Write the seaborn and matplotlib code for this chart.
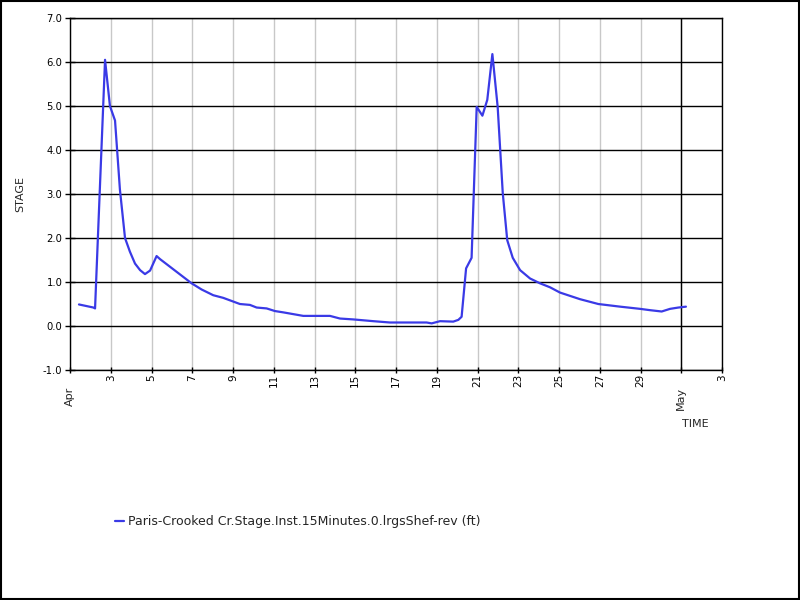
import pandas as pd
import matplotlib
matplotlib.use("Agg")
import matplotlib.pyplot as plt
import seaborn as sns

# stage readings, time given as days after Apr 1 00:00
start = pd.Timestamp("2024-04-01")
day_offsets = [0.44, 1.15, 1.23, 1.42, 1.72, 1.96, 2.21, 2.45, 2.70, 2.94,
               3.19, 3.44, 3.68, 3.93, 4.25, 4.42, 5.97, 6.46, 7.03, 7.52,
               8.34, 8.83, 9.16, 9.65, 10.06, 10.47, 11.45, 11.94, 12.76, 13.25,
               13.90, 14.89, 15.70, 17.50, 17.75, 18.16, 18.81, 19.06, 19.22, 19.44,
               19.71, 19.96, 20.24, 20.48, 20.73, 20.99, 21.24, 21.46, 21.73, 22.09,
               22.58, 23.07, 23.56, 24.05, 25.03, 25.93, 27.00, 27.98, 28.47, 29.04,
               29.45, 29.86, 30.23]
stage = [0.49, 0.42, 0.40, 2.60, 6.05, 5.00, 4.67, 3.10, 2.00, 1.69,
         1.42, 1.27, 1.18, 1.26, 1.59, 1.52, 0.97, 0.83, 0.70, 0.64,
         0.50, 0.48, 0.42, 0.40, 0.34, 0.31, 0.23, 0.23, 0.23, 0.17,
         0.15, 0.11, 0.08, 0.08, 0.06, 0.11, 0.10, 0.14, 0.21, 1.31,
         1.55, 4.98, 4.78, 5.14, 6.18, 4.98, 3.02, 1.95, 1.55, 1.27,
         1.08, 0.97, 0.88, 0.76, 0.61, 0.50, 0.44, 0.39, 0.36, 0.33,
         0.39, 0.42, 0.44]
series_name = "Paris-Crooked Cr.Stage.Inst.15Minutes.0.lrgsShef-rev (ft)"

df = pd.DataFrame({
    "TIME": start + pd.to_timedelta(day_offsets, unit="D"),
    "STAGE": stage,
})

sns.set_style("ticks")
plt.rcParams["font.family"] = ["DejaVu Sans"]

fig = plt.figure(figsize=(8, 6), dpi=100)
ax = fig.add_axes([0.0875, 0.3833, 0.815, 0.5867])

sns.lineplot(data=df, x="TIME", y="STAGE", color="#3a3ae6", linewidth=1.6,
             ax=ax, label=series_name, legend=False)

ax.set_xlim(start, start + pd.Timedelta(days=32))
ax.set_ylim(-1.0, 7.0)
ax.set_yticks(range(-1, 8))
ax.set_yticklabels([f"{v:.1f}" for v in range(-1, 8)], fontsize=7.2)

xticks = list(pd.date_range(start, "2024-04-29", freq="2D")) + \
    [pd.Timestamp("2024-05-01"), pd.Timestamp("2024-05-03")]
ax.set_xticks(xticks)
# day numbers on the ticks, month names a bit lower
ax.set_xticklabels(["" if t.day == 1 else str(t.day) for t in xticks],
                   rotation=90, fontsize=7.5)
for t in xticks:
    if t.day == 1:
        ax.text(t, -0.048, t.strftime("%b"), transform=ax.get_xaxis_transform(),
                rotation=90, ha="center", va="top", fontsize=8)

ax.grid(axis="x", color="#c8c8c8", linewidth=1)
ax.grid(axis="y", color="black", linewidth=1)
ax.axvline(pd.Timestamp("2024-05-01"), color="black", linewidth=1, zorder=1)
for s in ax.spines.values():
    s.set_color("black")
    s.set_linewidth(1)
ax.tick_params(axis="y", direction="inout", length=7, width=1, colors="black", pad=2)
ax.tick_params(axis="x", direction="inout", length=4, width=1, colors="black", pad=1)

ax.set_xlabel("")
ax.set_ylabel("STAGE", fontsize=8, labelpad=13)
fig.text(0.869, 0.293, "TIME", fontsize=8, ha="center", va="center")

handles, labels = ax.get_legend_handles_labels()
fig.legend(handles, labels, loc="center left", bbox_to_anchor=(0.130, 0.131),
           frameon=False, fontsize=9, handlelength=0.7, handletextpad=0.3)

fig.patches.append(plt.Rectangle((0.001, 0.001), 0.998, 0.998, transform=fig.transFigure,
                                 fill=False, edgecolor="black", linewidth=1.5))

fig.savefig("out.png", dpi=100)
